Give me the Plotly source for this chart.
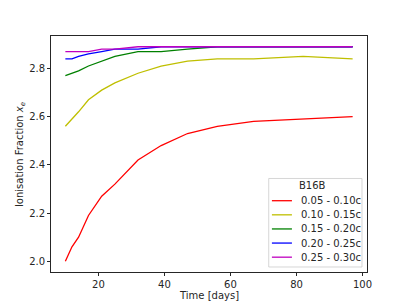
import plotly.graph_objects as go

time = [10, 12, 14, 17, 21, 25, 32, 39, 47, 56, 67, 82, 97]
v005 = [2.00, 2.06, 2.10, 2.19, 2.27, 2.32, 2.42, 2.48, 2.53, 2.56, 2.58, 2.59, 2.60]
v010 = [2.56, 2.59, 2.62, 2.67, 2.71, 2.74, 2.78, 2.81, 2.83, 2.84, 2.84, 2.85, 2.84]
v015 = [2.77, 2.78, 2.79, 2.81, 2.83, 2.85, 2.87, 2.87, 2.88, 2.89, 2.89, 2.89, 2.89]
v020 = [2.84, 2.84, 2.85, 2.86, 2.87, 2.88, 2.88, 2.89, 2.89, 2.89, 2.89, 2.89, 2.89]
v025 = [2.87, 2.87, 2.87, 2.87, 2.88, 2.88, 2.89, 2.89, 2.89, 2.89, 2.89, 2.89, 2.89]
labels = ["0.05 - 0.10c", "0.10 - 0.15c", "0.15 - 0.20c", "0.20 - 0.25c", "0.25 - 0.30c"]
colors = ["#ff0000", "#bfbf00", "#008000", "#0000ff", "#bf00bf"]
series = [v005, v010, v015, v020, v025]
legend_title = "B16B"
xticks = [20, 40, 60, 80, 100]
yticks = [2.0, 2.2, 2.4, 2.6, 2.8]

# page body has a default 8px margin: lay the figure out in window pixels
OFF = 8
WIN_W, WIN_H = 407, 305
W, H = WIN_W - OFF, WIN_H - OFF
L, R, T, B = 51, 366.7, 36, 271.7  # plot box in window pixels

def px(x):
    return (x - L) / (R - L)

def py(y):
    return (B - y) / (B - T)

fig = go.Figure()
for lab, col, ys in zip(labels, colors, series):
    fig.add_trace(go.Scatter(x=time, y=ys, mode="lines", name=lab, showlegend=False,
                             line=dict(color=col, width=1.3)))

txt = "#262626"
font = dict(family="DejaVu Sans", size=10, color=txt)

# custom legend (matplotlib-like)
shapes = [dict(type="rect", xref="paper", yref="paper",
               x0=px(268.5), x1=px(361.7), y0=py(266.7), y1=py(178.3),
               line=dict(color="#cccccc", width=0.8), fillcolor="rgba(255,255,255,0.8)",
               layer="above")]
annotations = [dict(xref="paper", yref="paper", x=px(312), y=py(185.7), text=legend_title,
                    showarrow=False, xanchor="center", yanchor="middle", font=font)]
for i, (lab, col) in enumerate(zip(labels, colors)):
    yy = 200.5 + i * 14.1
    shapes.append(dict(type="line", xref="paper", yref="paper",
                       x0=px(271.7), x1=px(291.7), y0=py(yy), y1=py(yy),
                       line=dict(color=col, width=1.3), layer="above"))
    annotations.append(dict(xref="paper", yref="paper", x=px(299), y=py(yy), text=lab,
                            showarrow=False, xanchor="left", yanchor="middle", font=font))
# axis titles placed precisely
annotations.append(dict(xref="paper", yref="paper", x=0.5, y=py(295), text="Time [days]",
                        showarrow=False, xanchor="center", yanchor="middle", font=font))
annotations.append(dict(xref="paper", yref="paper", x=px(20), y=py(154),
                        text="Ionisation Fraction <i>x</i><sub><i>e</i></sub>", textangle=-90,
                        showarrow=False, xanchor="center", yanchor="middle", font=font))

axis_common = dict(showline=True, linecolor=txt, linewidth=0.9, mirror=True,
                   ticks="outside", ticklen=3, tickwidth=0.8, tickcolor=txt,
                   showgrid=False, zeroline=False, tickfont=font, automargin=False)
fig.update_layout(
    width=W, height=H,
    margin=dict(l=L - OFF, r=WIN_W - R, t=T - OFF, b=WIN_H - B, pad=0),
    paper_bgcolor="white", plot_bgcolor="white",
    font=font, showlegend=False,
    shapes=shapes, annotations=annotations,
)
fig.update_xaxes(range=[5.65, 101.35], tickvals=xticks, **axis_common)
fig.update_yaxes(range=[1.9555, 2.9345], tickvals=yticks, tickformat=".1f", **axis_common)

fig.write_html("out.html")
